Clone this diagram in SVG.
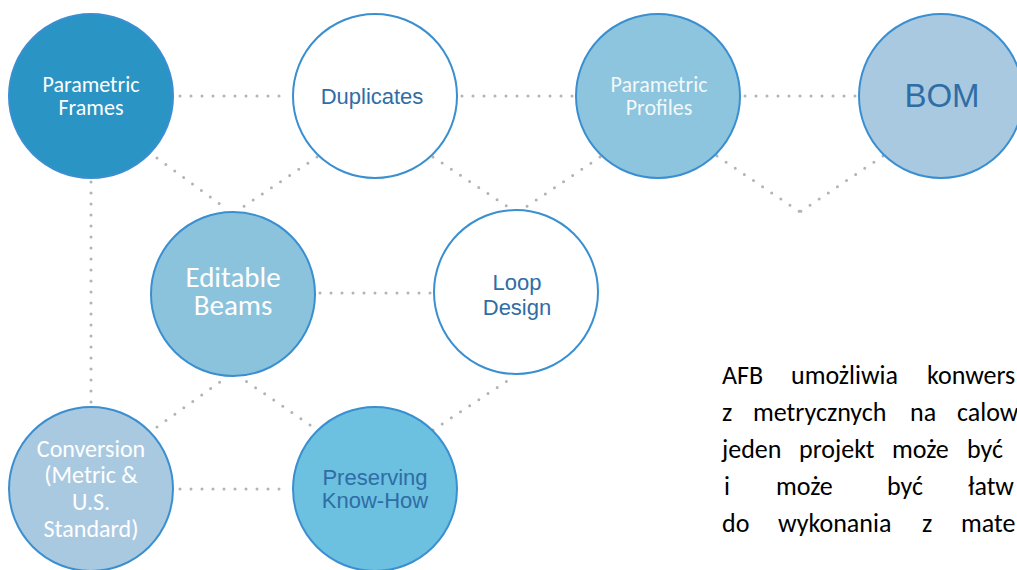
<svg xmlns="http://www.w3.org/2000/svg" width="1017" height="570" viewBox="0 0 1017 570">
<style>
.n{stroke:#3a8fd0;stroke-width:2}
.c line{stroke:#b3b3b3;stroke-width:3;stroke-linecap:round;stroke-dasharray:0 11}
.cal{font-family:Carlito,Lato,"Open Sans",sans-serif;text-anchor:middle}
.ar{font-family:"Liberation Sans",Arial,sans-serif;text-anchor:middle;fill:#2f6da5}
.w{fill:#ffffff}
.body{font-family:Carlito,Lato,"Open Sans",sans-serif;font-size:26px;fill:#000}
</style>
<rect width="1017" height="570" fill="#ffffff"/>
<g class="c" id="connectors">
<line x1="180" y1="96" x2="290" y2="96"/>
<line x1="462" y1="96" x2="574" y2="96"/>
<line x1="745" y1="96" x2="857" y2="96"/>
<line x1="157" y1="158" x2="224" y2="207"/>
<line x1="317" y1="157" x2="243" y2="207"/>
<line x1="433" y1="157" x2="508" y2="207"/>
<line x1="600" y1="157" x2="526" y2="207"/>
<line x1="717" y1="156" x2="800" y2="212"/>
<line x1="883" y1="156" x2="800" y2="212"/>
<line x1="320" y1="293" x2="432" y2="293"/>
<line x1="91" y1="182" x2="91" y2="404"/>
<line x1="157" y1="427" x2="224" y2="379"/>
<line x1="310" y1="425" x2="243" y2="379"/>
<line x1="433" y1="430" x2="510" y2="379"/>
<line x1="180" y1="489" x2="290" y2="489"/>
</g>
<g id="parametric-frames">
<circle class="n" cx="91" cy="96" r="82" fill="#2a94c4" stroke="#2a94c4"/>
<text class="cal w" font-size="22" x="91" y="92">Parametric</text>
<text class="cal w" font-size="22" x="91" y="115">Frames</text>
</g>
<g id="duplicates">
<circle class="n" cx="375" cy="96" r="82" fill="#ffffff"/>
<text class="ar" font-size="22" x="372" y="104">Duplicates</text>
</g>
<g id="parametric-profiles">
<circle class="n" cx="658" cy="96" r="82" fill="#8cc5dd"/>
<text class="cal" fill="#f3f8fb" font-size="22" x="659" y="92">Parametric</text>
<text class="cal" fill="#f3f8fb" font-size="22" x="659" y="115">Profiles</text>
</g>
<g id="bom">
<circle class="n" cx="941" cy="96" r="82" fill="#a9c9e1"/>
<text class="ar" font-size="33" x="942" y="107">BOM</text>
</g>
<g id="editable-beams">
<circle class="n" cx="233" cy="294" r="82" fill="#8bc3dc"/>
<text class="cal w" font-size="29" x="233" y="287">Editable</text>
<text class="cal w" font-size="29" x="233" y="315">Beams</text>
</g>
<g id="loop-design">
<circle class="n" cx="516" cy="292" r="82" fill="#ffffff"/>
<text class="ar" font-size="22" x="517" y="290">Loop</text>
<text class="ar" font-size="22" x="517" y="315">Design</text>
</g>
<g id="conversion">
<circle class="n" cx="91" cy="489" r="82" fill="#a9c9e1"/>
<text class="cal w" font-size="24" x="91" y="457">Conversion</text>
<text class="cal w" font-size="24" x="91" y="483">(Metric &amp;</text>
<text class="cal w" font-size="24" x="91" y="510">U.S.</text>
<text class="cal w" font-size="24" x="91" y="537">Standard)</text>
</g>
<g id="preserving-know-how">
<circle class="n" cx="375" cy="489" r="82" fill="#6cc0e0"/>
<text class="ar" font-size="22" x="375" y="485">Preserving</text>
<text class="ar" font-size="22" x="375" y="508">Know-How</text>
</g>
<g id="description" class="body">
<text y="384"><tspan x="722">AFB</tspan><tspan x="791">umożliwia</tspan><tspan x="927">konwers</tspan></text>
<text y="421"><tspan x="722">z</tspan><tspan x="753">metrycznych</tspan><tspan x="910">na</tspan><tspan x="957">calow</tspan></text>
<text y="458"><tspan x="722">jeden</tspan><tspan x="799">projekt</tspan><tspan x="892">może</tspan><tspan x="967">być</tspan></text>
<text y="495"><tspan x="724">i</tspan><tspan x="776">może</tspan><tspan x="887">być</tspan><tspan x="968">łatw</tspan></text>
<text y="532"><tspan x="722">do</tspan><tspan x="778">wykonania</tspan><tspan x="922">z</tspan><tspan x="961">mate</tspan></text>
</g>
</svg>
